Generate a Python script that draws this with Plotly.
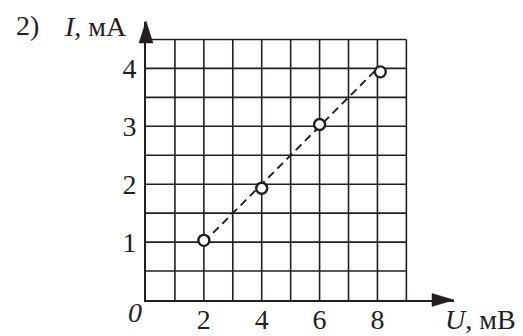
import plotly.graph_objects as go

# measured points: U in mV, I in mA
u_mv = [2, 4, 6, 8.1]
i_ma = [1.03, 1.93, 3.03, 3.94]

# straight line through the points
fit_u = [2, 8]
fit_i = [1, 4]

# grid of the paper sheet
grid_u = [1, 2, 3, 4, 5, 6, 7, 8, 9]
grid_i = [0.5, 1, 1.5, 2, 2.5, 3, 3.5, 4, 4.5]
u_ticks = [2, 4, 6, 8]
i_ticks = [1, 2, 3, 4]

INK = "#231f20"
FONT = "Liberation Serif"

# the page body has an 8px margin, so the figure is a bit smaller and every
# pixel position below is measured on the page minus 8
OFF = 8
W, H = 523 - OFF, 336 - OFF
L, R, T, B = 146 - OFF, 69, 22 - OFF, 36
PW, PH = W - L - R, H - T - B
X_PX, Y_PX = 28.93, 57.9  # pixels per unit

fig = go.Figure()

fig.add_trace(go.Scatter(
    x=fit_u, y=fit_i, mode="lines",
    line=dict(color=INK, width=1.9, dash="8px,5px"),
    hoverinfo="skip",
))
fig.add_trace(go.Scatter(
    x=u_mv, y=i_ma, mode="markers",
    marker=dict(size=11, color="white", line=dict(color=INK, width=2.4)),
    cliponaxis=False,
))

for u in grid_u:
    fig.add_shape(type="line", x0=u, x1=u, y0=0, y1=grid_i[-1],
                  line=dict(color=INK, width=1.6), layer="below")
for i in grid_i:
    fig.add_shape(type="line", x0=0, x1=grid_u[-1], y0=i, y1=i,
                  line=dict(color=INK, width=1.6), layer="below")


def px(x, y):
    # page pixel -> paper coordinates
    return f"{(x - OFF - L) / PW:.4f},{(H - B - (y - OFF)) / PH:.4f}"


# axis arrow heads
fig.add_shape(type="path", xref="paper", yref="paper",
              path=f"M {px(432, 293.5)} L {px(454, 300)} L {px(432, 306.5)} Z",
              fillcolor=INK, line=dict(color=INK, width=0.5))
fig.add_shape(type="path", xref="paper", yref="paper",
              path=f"M {px(139, 43)} L {px(146, 21)} L {px(153, 43)} Z",
              fillcolor=INK, line=dict(color=INK, width=0.5))

txt = dict(family=FONT, size=28, color=INK)
annots = [
    ("2)", 14, 25, "left"),
    ("<i>I</i>, мА", 62, 26, "left"),
    ("<i>U</i>, мВ", 518, 319, "right"),
    ("<i>0</i>", 144, 312, "right"),
]
for text, x, y, anchor in annots:
    fig.add_annotation(text=text, x=(x - OFF - L) / PW, y=(H - B - (y - OFF)) / PH,
                       xref="paper", yref="paper", xanchor=anchor, yanchor="middle",
                       showarrow=False, font=txt)

fig.update_xaxes(
    range=[0, PW / X_PX], tickvals=u_ticks, showgrid=False, zeroline=False,
    showline=True, linecolor=INK, linewidth=2, ticks="", tickfont=txt,
    automargin=False, ticklabelstandoff=-7, fixedrange=True,
)
fig.update_yaxes(
    range=[0, PH / Y_PX], tickvals=i_ticks, showgrid=False, zeroline=False,
    showline=True, linecolor=INK, linewidth=2, ticks="", tickfont=txt,
    automargin=False, ticklabelstandoff=2, fixedrange=True,
)
fig.update_layout(
    width=W, height=H, showlegend=False,
    margin=dict(l=L, r=R, t=T, b=B, pad=0),
    paper_bgcolor="white", plot_bgcolor="white",
)

fig.write_html("out.html")
